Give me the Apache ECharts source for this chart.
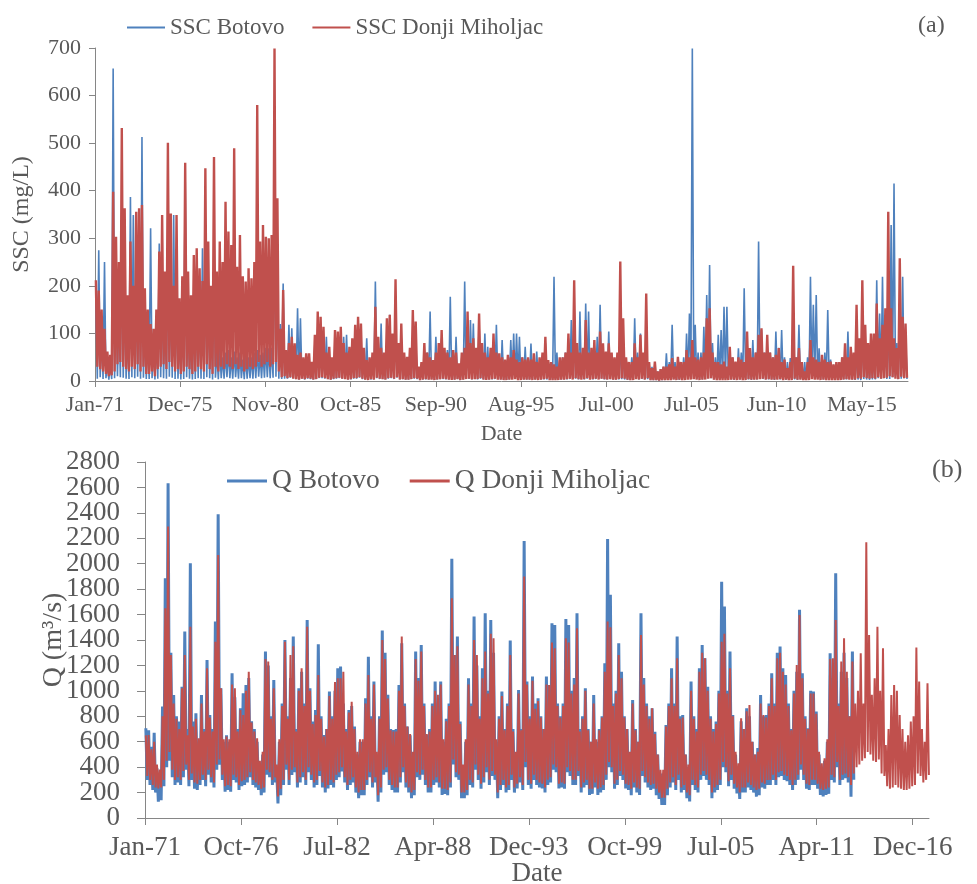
<!DOCTYPE html>
<html>
<head>
<meta charset="utf-8">
<script src="https://cdn.jsdelivr.net/npm/echarts@6/dist/echarts.min.js"></script>
<style>
html,body{margin:0;padding:0;background:#fff;}
#chart{width:977px;height:884px;}
</style>
</head>
<body>
<div id="chart"></div>
<script>
// Bimonthly periods (Jan-Feb, Mar-Apr, ..., Nov-Dec) starting Jan 1971.
// Each period: visible peak and trough of the daily record.

// ---------- (a) SSC, mg/L ----------
const sscBotovoPeak = [
/*1971*/184,275,100,250,40,35,
/*1972*/657,200,150,300,200,100,
/*1973*/387,349,200,220,513,120,
/*1974*/100,321,80,90,289,200,
/*1975*/150,300,200,349,200,100,
/*1976*/150,433,150,100,150,170,
/*1977*/150,279,250,180,120,250,
/*1978*/60,70,50,60,65,50,
/*1979*/62,50,60,45,55,50,
/*1980*/50,60,65,55,60,70,
/*1981*/69,70,384,200,120,205,
/*1982*/60,118,111,60,153,132,
/*1983*/40,50,45,35,80,100,
/*1984*/90,80,93,50,45,80,
/*1985*/80,90,93,97,60,70,
/*1986*/90,100,80,60,90,40,
/*1987*/50,209,80,121,50,90,
/*1988*/139,80,150,60,90,50,
/*1989*/40,60,100,90,25,35,
/*1990*/50,60,146,40,93,60,
/*1991*/90,50,65,177,45,93,
/*1992*/30,50,209,100,128,121,
/*1993*/60,120,70,100,72,60,
/*1994*/80,118,50,86,40,50,
/*1995*/86,100,100,93,50,72,
/*1996*/45,79,50,62,40,55,
/*1997*/80,40,35,219,60,45,
/*1998*/50,60,90,128,150,70,
/*1999*/146,60,163,146,60,70,
/*2000*/93,160,60,50,104,50,
/*2001*/40,50,79,60,40,35,
/*2002*/50,132,60,100,50,90,
/*2003*/34,30,25,20,25,30,
/*2004*/58,40,118,40,35,40,
/*2005*/50,100,142,699,118,60,
/*2006*/60,114,181,244,80,50,
/*2007*/97,107,156,156,60,50,
/*2008*/40,69,60,195,80,50,
/*2009*/86,60,293,107,60,70,
/*2010*/60,50,104,70,107,50,
/*2011*/40,48,90,50,118,40,
/*2012*/40,50,219,160,181,69,
/*2013*/50,60,149,45,34,40,
/*2014*/36,50,60,104,50,45,
/*2015*/60,27,100,80,41,60,
/*2016*/60,212,142,219,100,120,
/*2017*/328,415,80,150,219,100
];
const sscBotovoLow = [
/*1971*/5,8,4,6,3,4,
/*1972*/6,10,8,7,5,4,
/*1973*/8,6,9,5,7,4,
/*1974*/4,6,3,5,8,6,
/*1975*/5,9,7,4,5,3,
/*1976*/4,8,5,3,4,6,
/*1977*/5,4,8,6,3,7,
/*1978*/4,6,5,8,6,5,
/*1979*/8,5,6,4,5,6,
/*1980*/5,6,9,6,7,8,
/*1981*/6,7,9,5,4,5,
/*1982*/5,7,6,4,3,5,
/*1983*/3,5,4,3,4,6,
/*1984*/6,5,4,3,4,5,
/*1985*/6,5,4,3,3,5,
/*1986*/5,7,4,3,2,3,
/*1987*/3,6,4,4,3,5,
/*1988*/6,4,7,3,4,3,
/*1989*/3,4,5,4,2,3,
/*1990*/3,3,4,2,3,4,
/*1991*/4,3,3,3,3,4,
/*1992*/2,3,5,4,3,4,
/*1993*/3,5,3,3,3,3,
/*1994*/4,4,3,3,2,3,
/*1995*/4,4,4,3,3,3,
/*1996*/3,3,3,2,3,3,
/*1997*/3,2,2,4,2,3,
/*1998*/3,3,4,4,5,3,
/*1999*/5,3,5,4,3,4,
/*2000*/4,5,3,3,4,3,
/*2001*/3,3,4,3,2,2,
/*2002*/2,5,3,4,3,4,
/*2003*/2,2,2,1,2,2,
/*2004*/3,2,4,2,2,2,
/*2005*/2,4,5,8,4,3,
/*2006*/3,4,6,6,3,2,
/*2007*/4,4,5,5,3,2,
/*2008*/2,3,3,5,3,2,
/*2009*/3,3,6,4,3,3,
/*2010*/3,2,4,3,4,2,
/*2011*/2,2,3,2,4,2,
/*2012*/2,2,6,5,5,3,
/*2013*/3,3,4,2,2,2,
/*2014*/2,3,3,4,3,2,
/*2015*/3,2,4,3,2,3,
/*2016*/3,6,5,6,4,4,
/*2017*/8,10,4,5,6,4
];
const sscDonjiPeak = [
/*1971*/212,190,150,110,62,55,
/*1972*/398,303,250,532,363,180,
/*1973*/293,200,356,363,370,195,
/*1974*/150,120,110,150,272,349,
/*1975*/230,501,352,200,349,174,
/*1976*/220,459,230,180,265,279,
/*1977*/237,210,447,293,200,471,
/*1978*/230,293,250,377,314,286,
/*1979*/489,240,307,220,209,237,
/*1980*/216,250,580,293,328,303,
/*1981*/300,307,699,384,110,191,
/*1982*/65,80,93,79,55,60,
/*1983*/50,58,58,40,97,146,
/*1984*/135,114,60,72,50,107,
/*1985*/104,114,80,60,72,90,
/*1986*/118,135,121,70,44,50,
/*1987*/60,156,93,70,60,132,
/*1988*/139,100,214,80,121,60,
/*1989*/51,70,149,125,30,40,
/*1990*/80,60,50,44,60,80,
/*1991*/107,70,60,50,65,60,
/*1992*/37,60,70,146,80,90,
/*1993*/70,142,80,60,50,70,
/*1994*/100,60,58,50,45,55,
/*1995*/50,65,45,40,50,45,
/*1996*/50,45,58,40,50,60,
/*1997*/93,44,40,35,30,50,
/*1998*/50,60,100,60,212,80,
/*1999*/60,70,128,60,70,86,
/*2000*/60,104,79,62,79,60,
/*2001*/50,60,251,132,50,40,
/*2002*/40,79,50,97,60,184,
/*2003*/40,27,41,20,25,30,
/*2004*/30,35,48,30,51,40,
/*2005*/40,65,50,86,50,45,
/*2006*/50,60,132,153,60,40,
/*2007*/40,35,41,30,72,50,
/*2008*/41,50,45,40,104,69,
/*2009*/50,60,97,111,60,97,
/*2010*/60,50,55,69,40,45,
/*2011*/27,40,242,50,69,40,
/*2012*/20,40,86,50,45,40,
/*2013*/55,45,40,41,35,40,
/*2014*/40,50,79,50,72,60,
/*2015*/160,90,212,118,80,100,
/*2016*/100,163,90,118,153,356,
/*2017*/153,90,69,258,135,121
];
const sscDonjiLow = [
/*1971*/30,25,20,15,10,12,
/*1972*/20,35,40,30,25,20,
/*1973*/30,25,35,20,30,15,
/*1974*/15,20,10,25,30,35,
/*1975*/25,40,30,20,25,15,
/*1976*/20,30,25,15,20,30,
/*1977*/25,20,35,25,15,30,
/*1978*/20,30,25,35,30,25,
/*1979*/35,25,30,20,25,30,
/*1980*/25,30,40,30,35,40,
/*1981*/30,35,40,20,8,10,
/*1982*/6,8,5,4,3,5,
/*1983*/4,6,5,3,4,7,
/*1984*/8,6,4,3,5,6,
/*1985*/7,5,4,3,4,6,
/*1986*/6,8,5,3,2,4,
/*1987*/3,7,5,4,3,6,
/*1988*/7,5,8,3,4,3,
/*1989*/3,4,6,5,2,3,
/*1990*/4,3,3,2,3,4,
/*1991*/5,4,3,2,3,4,
/*1992*/2,3,4,5,3,4,
/*1993*/4,6,3,2,3,4,
/*1994*/5,3,3,2,2,3,
/*1995*/3,4,2,2,3,3,
/*1996*/3,2,3,2,3,4,
/*1997*/5,2,2,2,2,3,
/*1998*/3,4,5,3,6,4,
/*1999*/3,4,6,3,4,5,
/*2000*/3,5,4,3,4,3,
/*2001*/3,4,6,5,3,2,
/*2002*/2,4,3,5,3,6,
/*2003*/2,2,2,1,2,2,
/*2004*/2,2,3,2,3,2,
/*2005*/2,3,3,4,3,2,
/*2006*/3,3,5,6,3,2,
/*2007*/2,2,2,2,3,3,
/*2008*/2,3,2,2,4,3,
/*2009*/3,3,4,5,3,4,
/*2010*/3,3,3,4,2,3,
/*2011*/2,2,5,3,3,2,
/*2012*/2,2,4,3,3,2,
/*2013*/3,2,2,2,2,2,
/*2014*/2,3,4,3,3,3,
/*2015*/6,5,8,6,5,6,
/*2016*/5,8,5,6,7,10,
/*2017*/8,5,4,9,6,7
];

// ---------- (b) Q, m3/s ----------
const qBotovoPeak = [
/*1971*/706,690,560,670,390,350,
/*1972*/876,1886,2633,1300,968,800,
/*1973*/758,1033,1466,700,2004,758,
/*1974*/823,600,968,700,1243,810,
/*1975*/700,1545,2389,1020,600,650,
/*1976*/600,1138,950,700,863,981,
/*1977*/1046,1100,760,700,600,417,
/*1978*/500,1309,1200,800,1086,400,
/*1979*/600,900,1400,800,1100,1427,
/*1980*/700,1020,1150,900,1558,1020,
/*1981*/758,850,1366,800,653,700,
/*1982*/994,800,1000,1178,1191,900,
/*1983*/700,850,880,719,500,600,
/*1984*/600,942,1269,800,1073,500,
/*1985*/800,1474,1300,970,700,692,
/*1986*/700,1046,1374,900,719,650,
/*1987*/500,1309,1100,1361,900,653,
/*1988*/700,900,1073,900,1073,600,
/*1989*/780,900,2038,1282,1427,758,
/*1990*/400,600,1099,900,1584,1200,
/*1991*/800,1178,1610,1000,1558,1300,
/*1992*/600,800,994,700,900,1395,
/*1993*/700,500,1007,700,2179,1073,
/*1994*/800,1112,900,942,800,700,
/*1995*/1112,1046,1532,1518,900,800,
/*1996*/900,1566,1518,1000,1100,1610,
/*1997*/700,800,1020,700,600,968,
/*1998*/600,700,800,1217,2195,1755,
/*1999*/900,1000,1374,1151,800,700,
/*2000*/500,928,700,600,1610,1100,
/*2001*/900,800,863,679,500,350,
/*2002*/350,732,900,1178,900,1427,
/*2003*/800,810,500,400,1073,800,
/*2004*/700,1178,1361,1256,1033,800,
/*2005*/700,758,1000,1859,1663,1000,
/*2006*/1309,810,500,400,760,700,
/*2007*/863,800,600,500,550,968,
/*2008*/800,810,900,1138,900,1300,
/*2009*/1348,1178,1125,900,700,1000,
/*2010*/1150,1637,1138,800,705,1000,
/*2011*/994,837,500,400,450,600,
/*2012*/1296,1100,1925,900,1150,1300,
/*2013*/1100,800,1309
];
const qBotovoLow = [
/*1971*/300,260,220,200,128,140,
/*1972*/250,400,450,320,260,280,
/*1973*/260,320,380,250,300,230,
/*1974*/220,260,300,250,340,280,
/*1975*/240,380,420,300,207,220,
/*1976*/207,300,280,220,250,260,
/*1977*/280,320,260,240,220,180,
/*1978*/200,340,320,260,280,115,
/*1979*/180,260,380,260,338,360,
/*1980*/240,280,320,260,360,300,
/*1981*/240,260,330,240,200,233,
/*1982*/260,240,300,320,365,280,
/*1983*/220,260,280,200,155,180,
/*1984*/180,260,320,240,280,128,
/*1985*/200,340,360,260,220,200,
/*1986*/200,280,360,240,200,155,
/*1987*/180,320,300,340,260,200,
/*1988*/200,260,280,240,181,190,
/*1989*/180,240,420,320,300,155,
/*1990*/155,180,260,240,380,300,
/*1991*/230,280,360,260,330,300,
/*1992*/155,220,260,200,220,300,
/*1993*/200,233,280,220,400,260,
/*1994*/230,300,260,240,233,200,
/*1995*/260,280,380,360,233,240,
/*1996*/230,360,330,260,260,330,
/*1997*/200,240,260,181,190,240,
/*1998*/181,200,220,300,400,360,
/*1999*/230,260,330,300,233,220,
/*2000*/180,240,200,181,330,280,
/*2001*/240,220,230,180,150,102,
/*2002*/102,180,240,280,220,300,
/*2003*/200,220,155,130,260,220,
/*2004*/200,300,330,300,260,155,
/*2005*/200,220,260,400,360,250,
/*2006*/300,230,194,150,200,200,
/*2007*/240,220,200,168,180,240,
/*2008*/230,260,260,300,260,320,
/*2009*/330,300,290,260,220,260,
/*2010*/300,380,300,230,220,260,
/*2011*/260,230,181,170,181,190,
/*2012*/300,280,400,260,300,312,
/*2013*/280,168,300
];
const qDonjiPeak = [
/*1971*/650,653,540,600,420,380,
/*1972*/800,1650,2292,1282,900,780,
/*1973*/700,1020,1282,650,1505,720,
/*1974*/780,627,900,680,1178,790,
/*1975*/680,1387,2069,1020,620,640,
/*1976*/620,1050,1020,680,850,810,
/*1977*/1000,1151,750,680,627,450,
/*1978*/520,1250,1230,780,1020,420,
/*1979*/620,880,1387,780,1282,1350,
/*1980*/680,1000,1178,880,1505,1000,
/*1981*/740,810,1125,780,640,700,
/*1982*/960,780,1070,1100,1100,1151,
/*1983*/680,830,915,700,520,620,
/*1984*/620,900,1125,780,1050,520,
/*1985*/780,1400,1250,940,690,680,
/*1986*/680,1000,1427,880,720,660,
/*1987*/520,1250,1080,1309,880,660,
/*1988*/680,880,1000,970,1050,620,
/*1989*/760,880,1728,1282,1350,740,
/*1990*/420,620,1050,880,1400,1282,
/*1991*/780,1100,1309,980,1450,1414,
/*1992*/620,780,960,690,880,1282,
/*1993*/680,520,980,690,1899,1050,
/*1994*/780,1080,860,920,790,700,
/*1995*/1050,1046,1380,1335,880,790,
/*1996*/880,1414,1380,980,1050,1492,
/*1997*/680,780,1000,690,600,900,
/*1998*/620,690,790,1150,1545,1500,
/*1999*/880,980,1282,1100,790,700,
/*2000*/520,900,690,600,1440,1050,
/*2001*/880,780,863,660,500,380,
/*2002*/380,720,880,1100,880,1256,
/*2003*/780,790,500,420,1000,780,
/*2004*/680,1150,1300,1256,1000,780,
/*2005*/680,740,980,1387,1450,980,
/*2006*/1178,800,520,430,784,700,
/*2007*/840,889,600,500,520,900,
/*2008*/810,790,880,1100,880,1256,
/*2009*/1300,1150,1050,880,690,980,
/*2010*/1204,1597,1100,780,700,980,
/*2011*/980,820,520,430,470,620,
/*2012*/1250,1256,1558,880,1230,1414,
/*2013*/1150,800,1230,900,1000,1296,
/*2014*/900,2169,1440,970,1100,1505,
/*2015*/1000,1335,574,700,968,1046,
/*2016*/1000,810,700,600,650,758,
/*2017*/800,1340,1073,700,600,1060
];
const qDonjiLow = [
/*1971*/330,300,260,240,233,240,
/*1972*/300,450,520,380,300,320,
/*1973*/300,370,420,300,350,280,
/*1974*/270,300,340,300,380,320,
/*1975*/280,420,460,340,250,260,
/*1976*/250,340,320,260,290,300,
/*1977*/320,360,300,280,260,230,
/*1978*/240,380,360,300,320,170,
/*1979*/230,300,420,300,380,400,
/*1980*/280,320,360,300,400,340,
/*1981*/280,300,370,280,240,260,
/*1982*/300,280,340,360,400,320,
/*1983*/260,300,320,240,200,220,
/*1984*/220,300,360,280,320,180,
/*1985*/240,380,400,300,260,240,
/*1986*/240,320,400,280,240,200,
/*1987*/220,360,340,380,300,240,
/*1988*/240,300,320,280,230,230,
/*1989*/220,280,460,360,340,200,
/*1990*/200,220,300,280,420,340,
/*1991*/270,320,400,300,370,340,
/*1992*/200,260,300,240,260,340,
/*1993*/240,270,320,260,440,300,
/*1994*/270,340,300,280,270,240,
/*1995*/300,320,420,400,270,280,
/*1996*/270,400,370,300,300,370,
/*1997*/240,280,300,230,230,280,
/*1998*/230,240,260,340,440,400,
/*1999*/270,300,370,340,270,260,
/*2000*/230,280,240,230,370,320,
/*2001*/280,260,270,230,200,160,
/*2002*/160,230,280,320,260,340,
/*2003*/240,260,200,180,300,260,
/*2004*/240,340,370,340,300,200,
/*2005*/240,260,300,440,400,290,
/*2006*/340,270,240,200,240,240,
/*2007*/280,260,240,220,230,280,
/*2008*/270,300,300,340,300,360,
/*2009*/370,340,330,300,260,300,
/*2010*/340,420,340,270,260,300,
/*2011*/300,270,230,220,230,240,
/*2012*/340,320,440,300,340,350,
/*2013*/320,260,350,400,420,450,
/*2014*/470,520,500,450,440,460,
/*2015*/350,330,250,230,240,260,
/*2016*/240,230,220,220,230,250,
/*2017*/260,350,330,280,300,338
];

// Axis tick values
const sscTickDays = [0,1800,3600,5400,7200,9000,10800,12600,14400,16200];   // days since 1 Jan 1971
const qTickDays = [0,2100,4200,6300,8400,10500,12600,14700,16800];
const qTickLabelsA = [0,400,800,1200,1600,2000,2400,2800];
const qTickLabelsB = [200,600,1000,1400,1800,2200,2600];

const MONTHS = ['Jan','Feb','Mar','Apr','May','Jun','Jul','Aug','Sep','Oct','Nov','Dec'];
function fmtDay(v){
  const d = new Date(Date.UTC(1971,0,1) + Math.round(v)*86400000);
  return MONTHS[d.getUTCMonth()] + '-' + String(d.getUTCFullYear() % 100).padStart(2,'0');
}
function fmtNum(v){ return String(Math.round(v)); }
const PERIOD_DAYS = 365.25 / 6;
function toPoints(peaks, lows){
  const out = [];
  for (let i = 0; i < peaks.length; i++) {
    out.push([(i + 0.3) * PERIOD_DAYS, peaks[i]]);
    out.push([(i + 0.8) * PERIOD_DAYS, lows[i]]);
  }
  return out;
}

const FONT = 'Liberation Serif';
const TXT = '#595959';
const AX = '#868686';
const BLUE = '#4F81BD';
const RED = '#C0504D';

const qLabelStyle = {fontFamily: FONT, fontSize: 27, color: TXT, margin: 25, formatter: fmtNum,
                     showMinLabel: true, showMaxLabel: true, hideOverlap: false};

const chart = echarts.init(document.getElementById('chart'), null, {renderer:'canvas'});
chart.setOption({
  animation: false,
  backgroundColor: '#fff',
  textStyle: {fontFamily: FONT, color: TXT},
  grid: [
    {left: 95, top: 48, width: 813, height: 333, outerBoundsMode: 'none', containLabel: false},
    {left: 145, top: 462, width: 784, height: 356, outerBoundsMode: 'none', containLabel: false}
  ],
  legend: [
    {left: 127, top: 16, padding: 0, itemWidth: 38, itemHeight: 2, itemGap: 28, icon: 'rect',
     textStyle: {fontFamily: FONT, fontSize: 23, color: TXT},
     data: ['SSC Botovo', 'SSC Donji Miholjac']},
    {left: 227, top: 467, padding: 0, itemWidth: 40, itemHeight: 3, itemGap: 30, icon: 'rect',
     textStyle: {fontFamily: FONT, fontSize: 27.5, color: TXT},
     data: ['Q Botovo', 'Q Donji Miholjac']}
  ],
  graphic: [
    {type: 'text', left: 918, top: 14, style: {text: '(a)', font: '24px "Liberation Serif"', fill: TXT}},
    {type: 'text', left: 932, top: 457, style: {text: '(b)', font: '26px "Liberation Serif"', fill: TXT}}
  ],
  xAxis: [
    {type: 'value', gridIndex: 0, min: 0, max: 17176, interval: 1800,
     axisLine: {show: true, lineStyle: {color: AX, width: 1}},
     axisTick: {show: true, length: 6, customValues: sscTickDays, lineStyle: {color: AX}},
     axisLabel: {customValues: sscTickDays, formatter: fmtDay, fontFamily: FONT, fontSize: 22, color: TXT, margin: 13, hideOverlap: false},
     splitLine: {show: false},
     name: 'Date', nameLocation: 'middle', nameGap: 42,
     nameTextStyle: {fontFamily: FONT, fontSize: 22, color: TXT}},
    {type: 'value', gridIndex: 1, min: 0, max: 17157, interval: 2100,
     axisLine: {show: true, lineStyle: {color: AX, width: 1}},
     axisTick: {show: true, length: 7, customValues: qTickDays, lineStyle: {color: AX}},
     axisLabel: {customValues: qTickDays, formatter: fmtDay, fontFamily: FONT, fontSize: 27, color: TXT, margin: 16, hideOverlap: false},
     splitLine: {show: false},
     name: 'Date', nameLocation: 'middle', nameGap: 42, nameMoveOverlap: false,
     nameTextStyle: {fontFamily: FONT, fontSize: 27, color: TXT}}
  ],
  yAxis: [
    {type: 'value', gridIndex: 0, min: 0, max: 700, interval: 100,
     axisLine: {show: true, lineStyle: {color: AX, width: 1}},
     axisTick: {show: true, length: 6, lineStyle: {color: AX}},
     axisLabel: {fontFamily: FONT, fontSize: 22, color: TXT, margin: 14, formatter: fmtNum,
                 showMinLabel: true, showMaxLabel: true, hideOverlap: false},
     splitLine: {show: false},
     name: 'SSC (mg/L)', nameLocation: 'middle', nameGap: 61,
     nameTextStyle: {fontFamily: FONT, fontSize: 24, color: TXT}},
    {type: 'value', gridIndex: 1, position: 'left', offset: 0, min: 0, max: 2800, interval: 200,
     axisLine: {show: true, lineStyle: {color: AX, width: 1}},
     axisTick: {show: true, length: 8, lineStyle: {color: AX}},
     axisLabel: Object.assign({customValues: qTickLabelsA}, qLabelStyle),
     splitLine: {show: false},
     name: 'Q (m³/s)', nameLocation: 'middle', nameGap: 77, nameMoveOverlap: false,
     nameTextStyle: {fontFamily: FONT, fontSize: 28, color: TXT}},
    {type: 'value', gridIndex: 1, position: 'left', offset: 0, min: 0, max: 2800, interval: 200,
     axisLine: {show: false}, axisTick: {show: false},
     axisLabel: Object.assign({customValues: qTickLabelsB}, qLabelStyle),
     splitLine: {show: false}}
  ],
  series: [
    {name: 'SSC Botovo', type: 'line', xAxisIndex: 0, yAxisIndex: 0, showSymbol: false, symbol: 'none',
     lineStyle: {color: BLUE, width: 1.6}, itemStyle: {color: BLUE}, data: toPoints(sscBotovoPeak, sscBotovoLow)},
    {name: 'SSC Donji Miholjac', type: 'line', xAxisIndex: 0, yAxisIndex: 0, showSymbol: false, symbol: 'none',
     lineStyle: {color: RED, width: 2.4}, itemStyle: {color: RED}, data: toPoints(sscDonjiPeak, sscDonjiLow)},
    {name: 'Q Botovo', type: 'line', xAxisIndex: 1, yAxisIndex: 1, showSymbol: false, symbol: 'none',
     lineStyle: {color: BLUE, width: 3}, itemStyle: {color: BLUE}, data: toPoints(qBotovoPeak, qBotovoLow)},
    {name: 'Q Donji Miholjac', type: 'line', xAxisIndex: 1, yAxisIndex: 1, showSymbol: false, symbol: 'none',
     lineStyle: {color: RED, width: 2}, itemStyle: {color: RED}, data: toPoints(qDonjiPeak, qDonjiLow)}
  ]
});
</script>
</body>
</html>
